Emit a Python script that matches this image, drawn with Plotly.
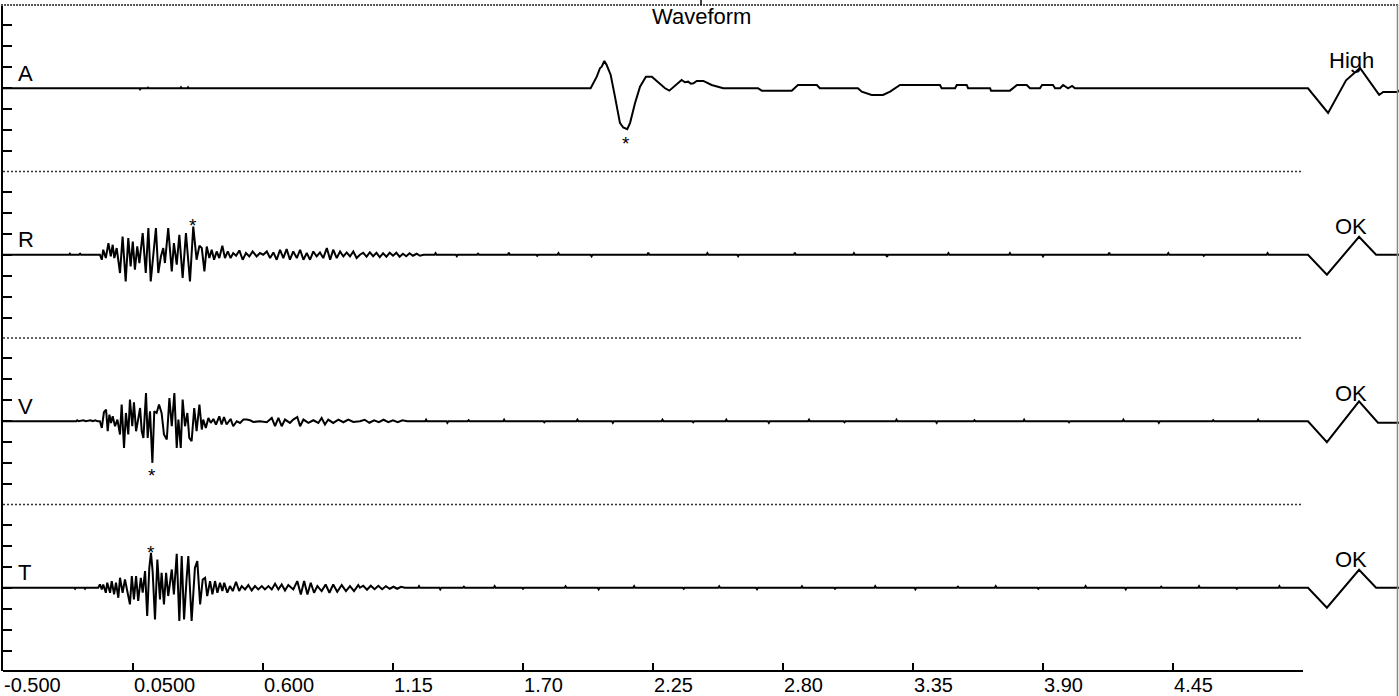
import plotly.graph_objects as go
from plotly.subplots import make_subplots

channels = ["A", "R", "V", "T"]
status = ["High", "OK", "OK", "OK"]

x_tick_vals = [-0.5, 0.05, 0.6, 1.15, 1.7, 2.25, 2.8, 3.35, 3.9, 4.45]
x_tick_text = ["-0.500", "0.0500", "0.600", "1.15", "1.70", "2.25", "2.80", "3.35", "3.90", "4.45"]
y_tick_vals = [-83, -63, -42, -21, 0, 21, 42, 63, 83]

# (time in ms, amplitude)
A_wave = [(-500, 0), (78, 0), (80, -1), (84, 0), (112, 0), (114, 0.7), (118, 0),
          (250, 0), (253, 1), (256, 0), (280, 0), (283, 1), (286, 0),
          (1986, 0), (2012, 11.6), (2026, 20.3), (2033, 21.6), (2044, 27.3), (2054, 23.3),
          (2071, 13.3), (2089, -8.4), (2110, -34.7), (2124, -39.4), (2141, -41), (2153, -34.7),
          (2174, -14.7), (2195, 1.6), (2220, 11.6), (2245, 11.6), (2272, 5.6), (2301, 0),
          (2319, -2.4), (2336, 1), (2371, 8.3), (2385, 6), (2399, 6.6), (2410, 4.5), (2421, 5),
          (2435, 7.3), (2463, 7.3), (2498, 3.3), (2547, 0), (2694, 0), (2710, -2.4),
          (2837, -2.4), (2863, 3.3), (2943, 3.3), (2956, 0), (3117, 0), (3133, -3.4),
          (3175, -6.7), (3223, -6.7), (3253, -3.4), (3295, 3.3), (3464, 3.3), (3471, 0),
          (3528, 0), (3535, 3.3), (3577, 3.3), (3583, 0), (3676, 0), (3680, -2.4),
          (3760, -2.4), (3790, 3.3), (3831, 3.3), (3845, 0), (3887, 0), (3896, 3.3),
          (3942, 3.3), (3951, 0), (3972, 0), (3985, 3.3), (4006, 0), (4023, 2.3), (4035, 0)]
A_cal = [(5021, 0), (5106, -24.7), (5182, 8), (5241, 20.3), (5322, -6.7), (5339, -3.7),
         (5400, -3.7), (5406, -2)]

R_wave = [(-500, 0), (-220, 0), (-217, 1), (-214, 0), (-178, 0), (-174, 1), (-170, 0), (-90, 0),
          (-82, -5), (-76, 5), (-65, -3.3), (-54, 11.7), (-44, -1.7), (-36, 10), (-29, -3.3),
          (-19, 6.7), (-5, -18.3), (6, 18.3), (19, -26.7), (30, 16.7), (40, -11.7), (49, 13.3),
          (58, -15), (68, 8.3), (77, -8.3), (91, 21.7), (104, -18.3), (115, 26.7), (125, -26.7),
          (136, -1.7), (147, 26.7), (157, -18.3), (168, -1.7), (178, 6.7), (185, -8.3),
          (199, 26.7), (214, -16.7), (223, 11.7), (235, -10), (246, 20), (260, -23.3),
          (274, 21.7), (291, -26.7), (305, 28.3), (319, -5), (331, 9), (341, 6.7), (352, -16.7),
          (362, 8.3), (373, -3.3), (383, 5), (393, -5), (404, 3.3), (415, -3.3), (428, 9),
          (439, -3.3), (451, 3.3), (463, -3.3), (474, 1.7), (486, -1), (500, 4.3), (514, -5),
          (528, 1.7), (542, -1.7), (556, 3.3), (573, -1.7), (587, 1.7), (601, 0), (616, 3.3),
          (630, -3.3), (644, 2.3), (658, -5), (672, 5), (686, -3.3), (700, 5.7), (714, -5),
          (728, 3.3), (743, -3.3), (757, 5), (771, -5), (785, 1.7), (799, -5), (813, 3.3),
          (827, -1.7), (841, 2.3), (855, -3.3), (870, 6.7), (884, -5), (897, 5), (912, -3.3),
          (926, 3.3), (940, -1.7), (954, 2.3), (968, -1.7), (982, 3.3), (996, -3.3), (1010, 0),
          (1024, 2), (1038, -2), (1052, 2.5), (1066, -1.5), (1080, 2), (1094, -2.5), (1108, 1.5),
          (1122, -2), (1136, 2), (1150, -1), (1164, 2), (1178, -2), (1192, 1), (1206, -1.5),
          (1220, 1.5), (1234, -1), (1250, 1), (1264, -1), (1280, 0),
          (1326, 0), (1330, 1.5), (1334, 0), (1416, 0), (1420, -1.5), (1424, 0),
          (1506, 0), (1510, 1), (1514, 0), (1636, 0), (1640, 2), (1644, 0),
          (1756, 0), (1760, -1), (1764, 0), (1846, 0), (1850, 1.5), (1854, 0),
          (1986, 0), (1990, -1.5), (1994, 0), (2226, 0), (2230, 2), (2234, 0),
          (2476, 0), (2480, 1.5), (2484, 0), (2606, 0), (2610, -1.5), (2614, 0),
          (2846, 0), (2850, 2), (2854, 0), (3096, 0), (3100, 1.5), (3104, 0),
          (3236, 0), (3240, -2), (3244, 0), (3496, 0), (3500, 1.5), (3504, 0),
          (3756, 0), (3760, 1.5), (3764, 0), (3896, 0), (3900, -1.5), (3904, 0),
          (4176, 0), (4180, 2), (4184, 0), (4426, 0), (4430, 1.5), (4434, 0),
          (4576, 0), (4580, -1), (4584, 0), (4846, 0), (4850, 1.5), (4854, 0)]
R_cal = [(5021, 0), (5101, -20), (5237, 18), (5309, 0), (5406, 0)]

V_wave = [(-500, 0), (-190, 0), (-186, 1), (-180, 0), (-160, 1), (-150, 0), (-130, 1),
          (-120, 0), (-110, 1), (-100, 0), (-90, 0),
          (-82, -6.7), (-73, 9), (-64, 11.7), (-57, -10), (-50, 6.7), (-43, -1.7), (-36, 5),
          (-26, -5), (-16, 1.7), (-5, -13.3), (2, 16.7), (12, -26.7), (20, 8.3), (30, -13.3),
          (37, 21.7), (47, -5), (54, 19), (63, -10), (72, 3.3), (80, 13.3), (87, -10),
          (94, -16.7), (105, 28.3), (112, -16.7), (122, 10), (132, -41.7), (140, 10), (150, 8.3),
          (160, 16.7), (171, 8.3), (181, -13.3), (193, -18.3), (204, 23.3), (214, -5),
          (225, 28.3), (235, -26.7), (242, 1.7), (252, -26.7), (260, 21.7), (270, -5),
          (280, 8.3), (288, -16.7), (298, -20), (309, 13.3), (319, -10), (331, 16.7),
          (341, -8.3), (347, 1.7), (358, -6.7), (369, 3.3), (379, -1.7), (390, 2.3),
          (401, -3.3), (415, 5), (425, -3.3), (435, 4.3), (446, -3.3), (463, 2.3), (474, -5),
          (489, 0), (503, -1.7), (517, 1.7), (531, 1.7), (545, 1), (559, -0.7), (587, 0),
          (616, -1), (637, 3.3), (651, -5), (665, 3.3), (679, -5), (693, 1.7), (714, -1.7),
          (728, 1.7), (745, 4.3), (757, -5), (771, 1.7), (792, -1.7), (813, 1), (834, -1.7),
          (848, 3.3), (862, -3.3), (876, 1.7), (897, -1.7), (919, 1.7), (940, -1), (961, 1.7),
          (982, -0.7), (1010, 0),
          (1030, 1.5), (1050, -1.5), (1070, 1), (1090, -1), (1110, 1.5), (1130, -1),
          (1150, 1), (1170, -1), (1190, 1), (1210, 0),
          (1286, 0), (1290, 1.5), (1294, 0), (1376, 0), (1380, -1.5), (1384, 0),
          (1466, 0), (1470, 1), (1474, 0), (1616, 0), (1620, 1.5), (1624, 0),
          (1786, 0), (1790, -1), (1794, 0), (1926, 0), (1930, 1.5), (1934, 0),
          (2076, 0), (2080, -1.5), (2084, 0), (2286, 0), (2290, 1.5), (2294, 0),
          (2416, 0), (2420, -1), (2424, 0), (2556, 0), (2560, 1.5), (2564, 0),
          (2736, 0), (2740, -1.5), (2744, 0), (2906, 0), (2910, 1.5), (2914, 0),
          (3056, 0), (3060, -1), (3064, 0), (3276, 0), (3280, 1.5), (3284, 0),
          (3446, 0), (3450, -1.5), (3454, 0), (3606, 0), (3610, 1), (3614, 0),
          (3816, 0), (3820, 1.5), (3824, 0), (4006, 0), (4010, -1), (4014, 0),
          (4236, 0), (4240, 1.5), (4244, 0), (4386, 0), (4390, -1.5), (4394, 0),
          (4616, 0), (4620, 1), (4624, 0), (4806, 0), (4810, 1.5), (4814, 0)]
V_cal = [(5021, 0), (5101, -21), (5237, 20), (5317, -1.5), (5406, -1.5)]

T_wave = [(-500, 0), (-198, 0), (-195, -1), (-192, 0), (-156, 0), (-153, -1), (-150, 0), (-97, 0),
          (-90, 3.3), (-82, -1.7), (-76, 3.3), (-65, -5), (-59, 5), (-47, -5), (-40, 6.7),
          (-30, -6.7), (-22, 5), (-12, -10), (-5, 10), (6, -5), (16, 8.3), (26, -3.3),
          (37, -16.7), (45, 11.7), (54, -11.7), (63, 11.7), (72, -13.3), (83, 10), (91, -5),
          (101, 16.7), (110, -28.3), (119, 20), (126, 35), (133, 16.7), (143, -31.7),
          (153, 28.3), (164, -11.7), (171, 15), (181, -16.7), (190, 15), (199, -8.3),
          (214, 18.3), (223, -6.7), (235, 34), (246, -33.3), (256, 31.7), (266, -31.7),
          (277, 10), (284, 31.7), (298, -33.3), (312, 20), (322, 26.7), (334, -16.7),
          (345, 8.3), (355, 10), (364, -8.3), (376, 6.7), (386, -6.7), (397, 6.7), (407, -5),
          (418, 5), (428, -3.3), (436, 5), (449, -5), (460, 1.7), (472, -3.3), (486, 6),
          (499, -3.3), (510, 1.7), (524, -1.7), (538, 2.7), (552, -2.7), (566, 1.7),
          (580, -1.7), (595, 1.7), (608, -1.7), (623, 1.7), (637, -1.7), (651, 4), (665, -1.7),
          (679, 3.3), (693, -2.7), (707, 2.7), (728, -1.7), (745, 6.7), (760, -6.7), (774, 6.7),
          (788, -6.7), (802, 5), (816, -5), (830, 1.7), (848, -3.3), (865, 3.3), (881, -5),
          (897, 3.3), (914, -4), (933, 2.7), (951, -3.3), (968, 1.7), (985, -3.3), (1003, 2.7),
          (1010, 0), (1024, 2), (1040, -2), (1056, 2), (1072, -1.5), (1088, 2), (1104, -1.5),
          (1120, 1.5), (1136, -1), (1152, 1), (1168, -1), (1184, 1), (1200, 0),
          (1256, 0), (1260, 1.5), (1264, 0), (1346, 0), (1350, -1.5), (1354, 0),
          (1446, 0), (1450, 1), (1454, 0), (1576, 0), (1580, 1.5), (1584, 0),
          (1696, 0), (1700, -1), (1704, 0), (1876, 0), (1880, 1.5), (1884, 0),
          (2016, 0), (2020, -1.5), (2024, 0), (2166, 0), (2170, 1.5), (2174, 0),
          (2376, 0), (2380, -1), (2384, 0), (2526, 0), (2530, 1.5), (2534, 0),
          (2686, 0), (2690, -1.5), (2694, 0), (2876, 0), (2880, 1.5), (2884, 0),
          (3016, 0), (3020, -1), (3024, 0), (3186, 0), (3190, 1.5), (3194, 0),
          (3356, 0), (3360, -1.5), (3364, 0), (3536, 0), (3540, 1), (3544, 0),
          (3696, 0), (3700, 1.5), (3704, 0), (3876, 0), (3880, -1), (3884, 0),
          (4076, 0), (4080, 1.5), (4084, 0), (4246, 0), (4250, -1.5), (4254, 0),
          (4396, 0), (4400, 1), (4404, 0), (4556, 0), (4560, 1.5), (4564, 0),
          (4716, 0), (4720, -1), (4724, 0), (4896, 0), (4900, 1.5), (4904, 0)]
T_cal = [(5021, 0), (5101, -20), (5237, 18), (5309, 0), (5406, 0)]

# peak markers: (time ms, amplitude, pixel shift of the star)
peak_marks = [(2136, -41, -14), (305, 28.3, 1), (132, -41.7, -13), (125, 35, 0)]

waves = [A_wave + A_cal, R_wave + R_cal, V_wave + V_cal, T_wave + T_cal]

FONT = "Liberation Sans, Arial, sans-serif"
AXIS_END = 5.0
Y_HALF = 83.5

fig = make_subplots(rows=4, cols=1, shared_xaxes=True, vertical_spacing=0)

for i, w in enumerate(waves):
    fig.add_trace(go.Scatter(x=[p[0] / 1000 for p in w], y=[p[1] for p in w], mode="lines",
                             line=dict(color="black", width=2), hoverinfo="skip",
                             showlegend=False), row=i + 1, col=1)

for i in range(4):
    r = i + 1
    fig.update_yaxes(range=[-Y_HALF, Y_HALF], showline=True, linecolor="black", linewidth=2,
                     ticks="inside", ticklen=9, tickwidth=2, tickcolor="black",
                     tickvals=y_tick_vals, showticklabels=False, showgrid=False,
                     zeroline=False, fixedrange=True, row=r, col=1)
    fig.update_xaxes(range=[-0.5, 5.406], showgrid=False, zeroline=False, showline=False,
                     fixedrange=True, row=r, col=1)
    if r < 4:
        fig.update_xaxes(ticks="", showticklabels=False, row=r, col=1)

fig.update_xaxes(tickvals=x_tick_vals, ticktext=x_tick_text, ticks="inside", ticklen=8,
                 tickwidth=2, tickcolor="black", showticklabels=True,
                 ticklabelposition="outside right",
                 tickfont=dict(family=FONT, size=20, color="black"), row=4, col=1)

shapes = []
# bottom axis line (ends where the record ends)
shapes.append(dict(type="line", xref="x4", yref="paper", x0=-0.5, x1=AXIS_END, y0=0, y1=0,
                   line=dict(color="black", width=2)))
# dotted separators between channels
for yy in [0.25, 0.5, 0.75]:
    shapes.append(dict(type="line", xref="x", yref="paper", x0=-0.5, x1=AXIS_END, y0=yy, y1=yy,
                       line=dict(color="#333", width=1.3, dash="2px,2px")))
# top border
shapes.append(dict(type="line", xref="paper", yref="paper", x0=-0.01, x1=1.01, y0=1, y1=1,
                   line=dict(color="#555", width=2, dash="2px,1px")))
# top center tick
shapes.append(dict(type="line", xref="paper", yref="paper", x0=0.5, x1=0.5, y0=1, y1=1.008,
                   line=dict(color="black", width=1.5)))
# right border
shapes.append(dict(type="line", xref="paper", yref="paper", x0=0.9989, x1=0.9989, y0=-0.04, y1=1,
                   line=dict(color="#888", width=1.5)))

annotations = [dict(text="Waveform", xref="paper", yref="paper", x=0.5, y=0.982,
                    xanchor="center", yanchor="middle", showarrow=False,
                    font=dict(family=FONT, size=22, color="black"))]
yrefs = ["y", "y2", "y3", "y4"]
for i in range(4):
    annotations.append(dict(text=channels[i], xref="paper", yref=yrefs[i], x=0.0095, y=15,
                            xanchor="left", yanchor="middle", showarrow=False,
                            font=dict(family=FONT, size=22, color="black")))
    annotations.append(dict(text=status[i], xref="x" if i == 0 else "x%d" % (i + 1),
                            yref=yrefs[i], x=5.203, y=28, xanchor="center", yanchor="middle",
                            showarrow=False, font=dict(family=FONT, size=22, color="black")))
    t, a, s = peak_marks[i]
    annotations.append(dict(text="*", xref="x" if i == 0 else "x%d" % (i + 1), yref=yrefs[i],
                            x=t / 1000, y=a, yshift=s, xanchor="center", yanchor="middle",
                            showarrow=False, font=dict(family=FONT, size=19, color="black")))

fig.update_layout(width=1399, height=696, margin=dict(l=3, r=0, t=5, b=23),
                  plot_bgcolor="white", paper_bgcolor="white", shapes=shapes,
                  annotations=annotations, showlegend=False)

fig.write_html("out.html", config={"displayModeBar": False},
               post_script="document.body.style.margin='0';")
